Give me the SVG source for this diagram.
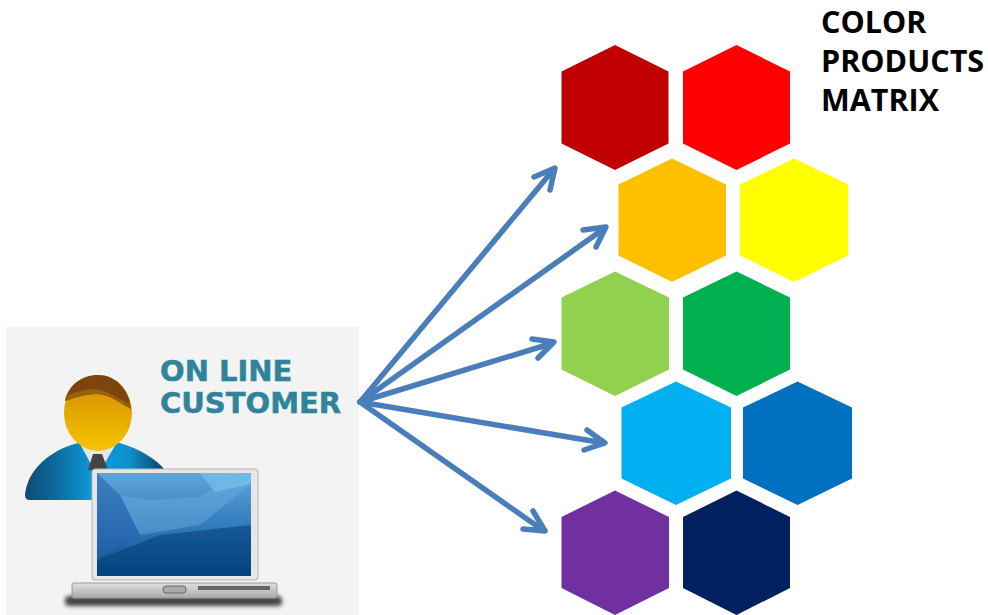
<svg xmlns="http://www.w3.org/2000/svg" width="988" height="615" viewBox="0 0 988 615">
<style>
.t1{font:bold 30.500px "Open Sans","Liberation Sans",sans-serif;fill:#000}
.t2{font:bold 29px "DejaVu Sans",sans-serif;fill:#2f8499;stroke:#2f8499;stroke-width:.5}
.c{fill:none;stroke:#4a7ebb;stroke-width:5.500;stroke-linecap:round;stroke-linejoin:round}
</style>
<defs>
<filter id="soft" x="-5%" y="-5%" width="110%" height="110%"><feGaussianBlur stdDeviation="0.7"/></filter>
<filter id="shadow" x="-5%" y="-100%" width="110%" height="300%"><feGaussianBlur stdDeviation="2"/></filter>
<linearGradient id="body" x1="0" x2="1" y1="0" y2="0"><stop offset="0" stop-color="#0b4a70"/><stop offset=".25" stop-color="#0a6fa6"/><stop offset=".5" stop-color="#0d9ede"/><stop offset=".75" stop-color="#0a8fcb"/><stop offset="1" stop-color="#0a3f60"/></linearGradient>
<linearGradient id="face" x1="0" x2="0" y1="0" y2="1"><stop offset="0" stop-color="#cf8a00"/><stop offset="1" stop-color="#f8c400"/></linearGradient>
<linearGradient id="screen" x1="0" x2="0" y1="0" y2="1"><stop offset="0" stop-color="#5fa6da"/><stop offset=".55" stop-color="#2f78b8"/><stop offset="1" stop-color="#03437f"/></linearGradient>
<linearGradient id="base" x1="0" x2="0" y1="0" y2="1"><stop offset="0" stop-color="#e0e0e0"/><stop offset="1" stop-color="#a8a8a8"/></linearGradient>
</defs>
<rect width="988" height="615" fill="#fff"/>
<g id="customer">
<rect x="6" y="327" width="353" height="288" fill="#f3f3f3"/>
<rect x="65" y="596" width="217" height="10" rx="4" fill="#444" filter="url(#shadow)"/>
<g filter="url(#soft)">
<path d="M25 495C27 470 50 450 78 443L120 443C140 449 156 459 165 470L165 500L30 500Q25 500 25 495Z" fill="url(#body)"/>
<path d="M80 444L92 466L103 466L116 444L106 438L88 438Z" fill="#e6e6e6"/>
<path d="M93 454L102 454L108 470L88 470Z" fill="#444"/>
<ellipse cx="98" cy="413" rx="34" ry="38" fill="url(#face)"/>
<path d="M65 401C68 385 82 375 98 375C115 375 129 388 131 409C118 402 108 393 96 394C84 394 74 398 65 401Z" fill="#7c4508"/>
<path d="M66 396C78 391 90 388 100 390C110 392 120 400 130 404L131 409C118 402 108 393 96 394C84 394 74 398 65 401Z" fill="#96600a"/>
<rect x="92" y="469" width="166" height="111" rx="3" fill="#e6e6e6" stroke="#b4b4b4"/>
<rect x="97" y="473" width="154" height="103" fill="url(#screen)"/>
<path d="M97 473L120 495L140 535L97 560Z" fill="#2a62ad" opacity=".6"/>
<path d="M120 495L150 500L200 497L228 478L251 473L251 484L200 525L140 535Z" fill="#6ab0e0" opacity=".45"/>
<path d="M200 473L251 473L251 484L215 492Z" fill="#7cc6f0" opacity=".6"/>
<path d="M97 560L160 535L251 525L251 576L97 576Z" fill="#04427e" opacity=".6"/>
<rect x="72" y="583" width="205" height="15" rx="2" fill="url(#base)" stroke="#999"/>
<rect x="163" y="586" width="23" height="7" rx="3" fill="#aaa" stroke="#666"/>
<rect x="198" y="586" width="72" height="4" fill="#666"/>
</g>
<text class="t2" x="160" y="381">ON LINE</text>
<text class="t2" x="160" y="413">CUSTOMER</text>
</g>
<g id="connectors">
<path class="c" d="M360 402L554 169M534 177L555 168L550 190"/>
<path class="c" d="M360 402L605 228M583 230L606 227L596 247"/>
<path class="c" d="M360 402L553 343M532 339L554 342L538 358"/>
<path class="c" d="M360 402L604 443M587 430L605 443L584 450"/>
<path class="c" d="M360 402L544 531M533 511L545 531L523 529"/>
</g>
<g id="hex-darkred"><polygon points="615,45 668.500,71.500 668.500,143.500 615,170 561.500,143.500 561.500,71.500" fill="#c00000"/></g>
<g id="hex-red"><polygon points="736.500,45 790,71.500 790,143.500 736.500,170 683,143.500 683,71.500" fill="#ff0000"/></g>
<g id="hex-orange"><polygon points="672,158.500 726,184.500 726,255.500 672,282 618.500,255.500 618.500,184.500" fill="#ffc000"/></g>
<g id="hex-yellow"><polygon points="794,158.500 848,184.500 848,255.500 794,282 740,255.500 740,184.500" fill="#ffff00"/></g>
<g id="hex-lightgreen"><polygon points="615,271.500 669,297.500 669,369.500 615,396 561.500,369.500 561.500,297.500" fill="#92d050"/></g>
<g id="hex-green"><polygon points="736.500,271.500 790,297.500 790,369.500 736.500,396 683,369.500 683,297.500" fill="#00b050"/></g>
<g id="hex-lightblue"><polygon points="676,381.500 731,407.500 731,478.500 676,505 621.500,478.500 621.500,407.500" fill="#00b0f0"/></g>
<g id="hex-blue"><polygon points="797.500,381.500 852,407.500 852,478.500 797.500,505 743,478.500 743,407.500" fill="#0070c0"/></g>
<g id="hex-purple"><polygon points="615,490.500 669,517 669,588 615,615 561.500,588 561.500,517" fill="#7030a0"/></g>
<g id="hex-navy"><polygon points="736.500,490.500 790,517 790,588 736.500,615 683,588 683,517" fill="#002060"/></g>
<g id="title">
<text class="t1" x="821" y="33">COLOR</text>
<text class="t1" x="821" y="72">PRODUCTS</text>
<text class="t1" x="821" y="111">MATRIX</text>
</g>
</svg>
